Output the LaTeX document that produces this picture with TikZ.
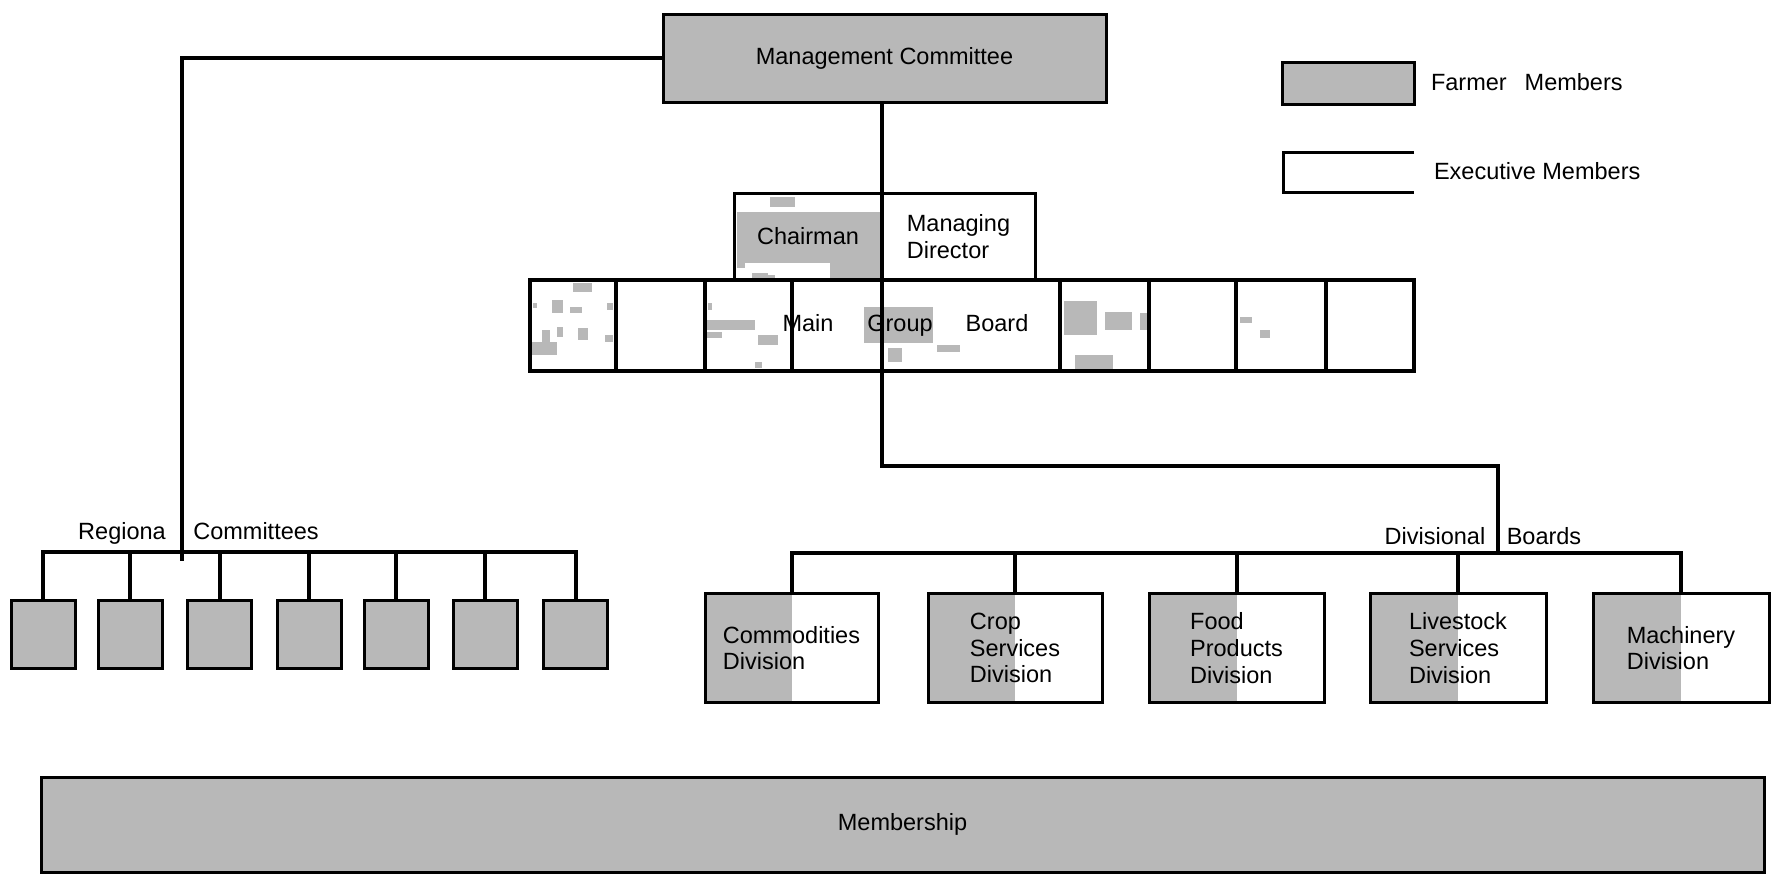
\documentclass[tikz,border=0pt]{standalone}
\usepackage{fontspec}
\setmainfont{Liberation Sans}
\usetikzlibrary{backgrounds}
\definecolor{tone}{gray}{0.72}

\begin{document}
\begin{tikzpicture}[x=0.5pt,y=-0.5pt,
  every node/.style={font=\fontsize{11.75}{13.4}\selectfont, inner sep=0pt, outer sep=0pt},
  conn/.style={line width=2pt, line join=miter},
  frame/.style={draw, line width=1.5pt},
  farmer/.style={frame, fill=tone},
  exec/.style={frame, align=left},
  cell/.style={draw, line width=1.7pt, minimum height=45.5pt},
  regbox/.style={farmer, minimum width=32pt, minimum height=34pt},
  divbox/.style={exec, minimum height=54.5pt},
  label/.style={anchor=base},
]
\useasboundingbox (0,0) rectangle (1771,878);

% --- top: management committee and legend
\node[farmer, minimum width=221.5pt, minimum height=44pt] (mc) at (884.5,58) {Management Committee};

\node[farmer, minimum width=66pt, minimum height=21pt] (lgf) at (1348,83) {};
\node[anchor=west] (lgft) at (1431,82) {Farmer\hspace{9pt}Members};
\draw[line width=1.5pt] (1414,152) -- (1283,152) -- (1283,192) -- (1414,192);
\node[anchor=west] (lget) at (1434,171) {Executive Members};

% --- chairman / managing director
\node[frame, minimum width=74pt, minimum height=43.5pt] (chair) at (808,236.5) {};
\node[exec, minimum width=76.5pt, minimum height=43.5pt] (md) at (958.5,236.5) {Managing\\Director};

% --- main group board row
\node[cell, minimum width=43pt]   (c1) at (573,325.5) {};
\node[cell, minimum width=44.5pt] (c2) at (660.5,325.5) {};
\node[cell, minimum width=43.5pt] (c3) at (748.5,325.5) {};
\node[cell, minimum width=134pt]  (cm) at (926,325.5) {};
\node[cell, minimum width=44.5pt] (c5) at (1104.5,325.5) {};
\node[cell, minimum width=43.5pt] (c6) at (1192.5,325.5) {};
\node[cell, minimum width=45pt]   (c7) at (1281,325.5) {};
\node[cell, minimum width=44pt]   (c8) at (1370,325.5) {};

\begin{scope}[on background layer]
  % worn halftone in the chairman cell
  \fill[tone] (737,212) rectangle (880,263);
  \fill[tone] (830,263) rectangle (880,279);
  \fill[tone] (770,197) rectangle (795,207);
  \fill[tone] (752,273) rectangle (768,281);
  \fill[tone] (737,263) rectangle (745,268);
  \fill[tone] (755,275) rectangle (775,281);
  % speckled farmer seats on the board
  \fill[tone] (573,283) rectangle (592,292);
  \fill[tone] (552,300) rectangle (563,313);
  \fill[tone] (532,342) rectangle (557,355);
  \fill[tone] (542,330) rectangle (550,342);
  \fill[tone] (557,327) rectangle (563,337);
  \fill[tone] (578,328) rectangle (588,340);
  \fill[tone] (605,335) rectangle (613,342);
  \fill[tone] (607,303) rectangle (613,310);
  \fill[tone] (570,307) rectangle (582,313);
  \fill[tone] (533,303) rectangle (537,308);
  \fill[tone] (707,320) rectangle (755,330);
  \fill[tone] (707,332) rectangle (722,338);
  \fill[tone] (758,335) rectangle (778,345);
  \fill[tone] (755,362) rectangle (762,368);
  \fill[tone] (708,303) rectangle (712,310);
  \fill[tone] (864,307) rectangle (933,343);
  \fill[tone] (888,348) rectangle (902,362);
  \fill[tone] (937,345) rectangle (960,352);
  \fill[tone] (1064,301) rectangle (1097,335);
  \fill[tone] (1105,312) rectangle (1132,330);
  \fill[tone] (1140,313) rectangle (1148,330);
  \fill[tone] (1075,355) rectangle (1113,370);
  \fill[tone] (1240,317) rectangle (1252,323);
  \fill[tone] (1260,330) rectangle (1270,338);
\end{scope}

\node[label] (tchair) at (808,244) {Chairman};
\node[label] (tmain)  at (808,331) {Main};
\node[label] (tgroup) at (900,331) {Group};
\node[label] (tboard) at (997,331) {Board};

% --- divisional boards
\node[divbox, minimum width=86.5pt] (cd)   at (791.5,648) {Commodities\\Division};
\node[divbox, minimum width=87pt]   (cs)   at (1015,648)  {Crop\\Services\\Division};
\node[divbox, minimum width=87.5pt] (fp)   at (1236.5,648) {Food\\Products\\Division};
\node[divbox, minimum width=88pt]   (ls)   at (1458,648)  {Livestock\\Services\\Division};
\node[divbox, minimum width=88pt]   (mach) at (1681,648)  {Machinery\\Division};

\begin{scope}[on background layer]
  \foreach \d in {cd,cs,fp,ls,mach}
    \fill[tone] (\d.north west) rectangle (\d.south);
\end{scope}

\node[label] (tdiv) at (1435,544) {Divisional};
\node[label] (tbrd) at (1544,544) {Boards};

% --- regional committees
\node[regbox] (r1) at (43,634) {};
\node[regbox] (r2) at (130,634) {};
\node[regbox] (r3) at (219.5,634) {};
\node[regbox] (r4) at (309,634) {};
\node[regbox] (r5) at (396,634) {};
\node[regbox] (r6) at (485,634) {};
\node[regbox] (r7) at (575.5,634) {};

\node[label] (treg) at (122,539) {Regiona};
\node[label] (tcom) at (256,539) {Committees};

% --- membership
\node[farmer, minimum width=861.5pt, minimum height=47.5pt] (mem) at (902.5,824.5) {Membership};

% --- connectors
\coordinate (rv) at (182,561);
\coordinate (rbar) at (0,552);
\coordinate (jr) at (1498,466);
\coordinate (dbar) at (0,553);

\draw[conn] (mc.west) -| (rv);
\draw[conn] (r1.north) -- (r1.north |- rbar) -- (r7.north |- rbar) -- (r7.north);
\foreach \r in {r2,r3,r4,r5,r6}
  \draw[conn] (\r.north |- rbar) -- (\r.north);

\draw[conn] (md.north west |- mc.south) -- (md.west |- jr) -- (jr) -- (jr |- dbar);
\draw[conn] (cd.north) -- (cd.north |- dbar) -- (mach.north |- dbar) -- (mach.north);
\foreach \d in {cs,fp,ls}
  \draw[conn] (\d.north |- dbar) -- (\d.north);
\end{tikzpicture}
\end{document}
